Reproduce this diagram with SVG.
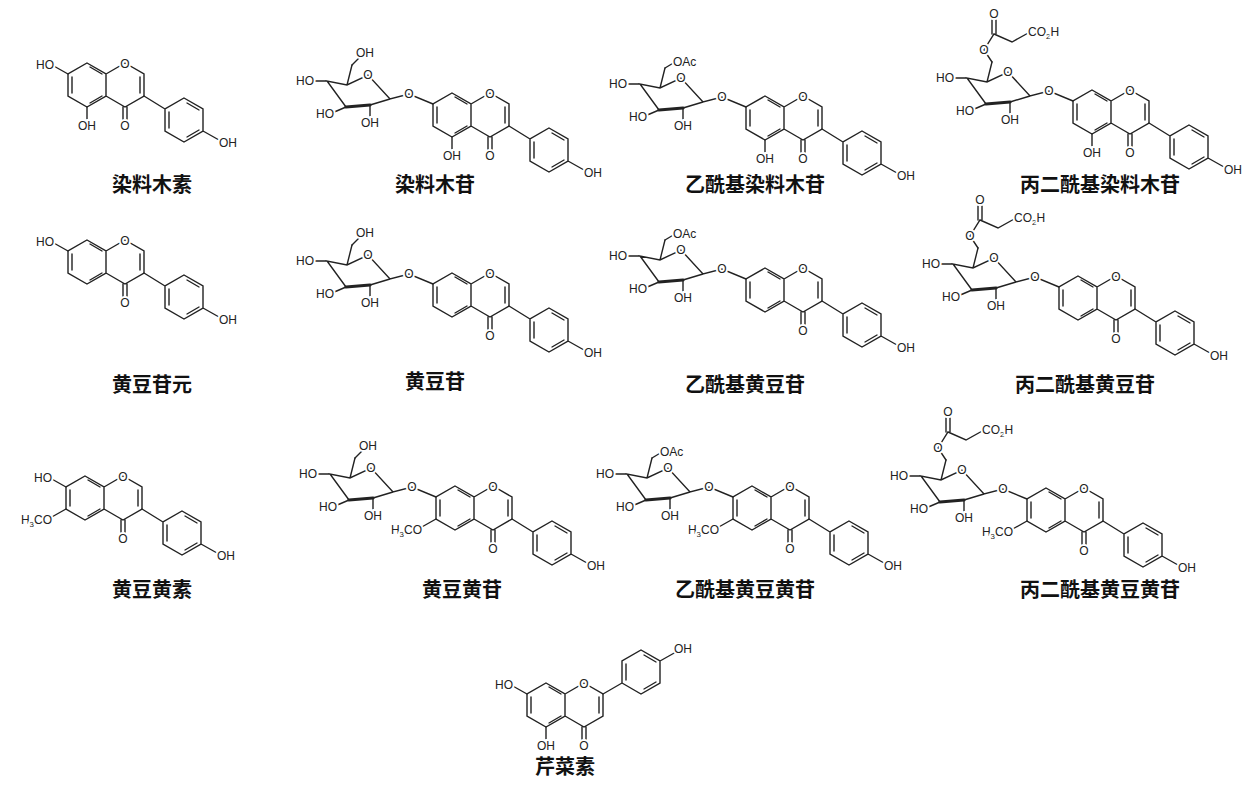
<svg xmlns="http://www.w3.org/2000/svg" xmlns:xlink="http://www.w3.org/1999/xlink" width="1258" height="786" viewBox="0 0 1258 786">
<style>
.b{fill:none;stroke:#222;stroke-width:1.4;stroke-linecap:round}
.w{fill:none;stroke:#222;stroke-width:3.2;stroke-linecap:round}
.t{font-family:"Liberation Sans",sans-serif;font-size:12px;fill:#222;stroke:#fff;stroke-width:4;paint-order:stroke;text-anchor:middle}
.e{text-anchor:end}.s{text-anchor:start}
.n{font-family:"Liberation Sans","Noto Sans CJK SC",sans-serif;font-size:20px;font-weight:bold;fill:#111;text-anchor:middle}
</style>
<defs>
<g id="core">
<path class="b" d="M0,-22 L19,-11 L19,11 L0,22 L-19,11 L-19,-11Z M-15,-8 L-15,8 M3,18 L15,11 M19,-11 L38,-22 L57,-11 L57,11 L38,22 L19,11 M53,-8 L53,8 M36,22 L36,36 M40,22 L40,36 M3,-18 L15,-11"/>
<text class="t" x="38" y="-17">O</text>
<text class="t" x="38" y="45">O</text>
</g>
<g id="isoB">
<path class="b" d="M57,11 L78,24 M97,13 L116,24 L116,46 L97,57 L78,46 L78,24Z M82,27 L82,43 M100,18 L112,25 M100,52 L112,45 M116,46 L132,55"/>
<text class="t s" x="132" y="62">OH</text>
</g>
<g id="ho7"><path class="b" d="M-19,-11 L-35,-20"/><text class="t e" x="-33" y="-16">HO</text></g>
<g id="oh5"><path class="b" d="M0,22 L0,34"/><text class="t" x="0" y="45">OH</text></g>
<g id="meo6"><path class="b" d="M-19,11 L-35,20"/><text class="t e" x="-33" y="26">H<tspan font-size="8" dy="3">3</tspan><tspan dy="-3">CO</tspan></text></g>
<g id="glc">
<path class="b" d="M-19,-11 L-43,-21 L-62,-16 L-84,-40 L-105,-30 L-125,-34 L-106,-8 M-62,-16 L-82,-10 M-125,-34 L-140,-34 M-106,-8 L-120,-2 M-82,-10 L-82,2 M-105,-30 L-100,-50"/>
<path class="w" d="M-82,-10 L-106,-8"/>
<text class="t" x="-43" y="-17">O</text>
<text class="t" x="-84" y="-36">O</text>
<text class="t e" x="-138" y="-30">HO</text>
<text class="t e" x="-118" y="3">HO</text>
<text class="t" x="-82" y="12">OH</text>
</g>
<g id="c6oh"><path class="b" d="M-100,-50 L-92,-58"/><text class="t s" x="-96" y="-58">OH</text></g>
<g id="c6ac"><path class="b" d="M-100,-50 L-90,-56"/><text class="t s" x="-92" y="-52">OAc</text></g>
<g id="c6mal"><path class="b" d="M-100,-50 L-108,-62 L-98,-78 L-80,-70 L-62,-80 M-100,-78 L-100,-92 M-96,-78 L-96,-92"/><text class="t" x="-108" y="-58">O</text><text class="t" x="-98" y="-94">O</text><text class="t s" x="-64" y="-76">CO<tspan font-size="8" dy="3">2</tspan><tspan dy="-3">H</tspan></text></g>
</defs>

<g id="genistein" transform="translate(87,85)"><use href="#core"/><use href="#isoB"/><use href="#ho7"/><use href="#oh5"/></g>
<g id="genistin" transform="translate(452,115)"><use href="#core"/><use href="#isoB"/><use href="#glc"/><use href="#c6oh"/><use href="#oh5"/></g>
<g id="acetylgenistin" transform="translate(765,118)"><use href="#core"/><use href="#isoB"/><use href="#glc"/><use href="#c6ac"/><use href="#oh5"/></g>
<g id="malonylgenistin" transform="translate(1092,112)"><use href="#core"/><use href="#isoB"/><use href="#glc"/><use href="#c6mal"/><use href="#oh5"/></g>

<g id="daidzein" transform="translate(87,262)"><use href="#core"/><use href="#isoB"/><use href="#ho7"/></g>
<g id="daidzin" transform="translate(452,295)"><use href="#core"/><use href="#isoB"/><use href="#glc"/><use href="#c6oh"/></g>
<g id="acetyldaidzin" transform="translate(765,290)"><use href="#core"/><use href="#isoB"/><use href="#glc"/><use href="#c6ac"/></g>
<g id="malonyldaidzin" transform="translate(1078,298)"><use href="#core"/><use href="#isoB"/><use href="#glc"/><use href="#c6mal"/></g>

<g id="glycitein" transform="translate(85,498)"><use href="#core"/><use href="#isoB"/><use href="#ho7"/><use href="#meo6"/></g>
<g id="glycitin" transform="translate(455,508)"><use href="#core"/><use href="#isoB"/><use href="#glc"/><use href="#c6oh"/><use href="#meo6"/></g>
<g id="acetylglycitin" transform="translate(752,508)"><use href="#core"/><use href="#isoB"/><use href="#glc"/><use href="#c6ac"/><use href="#meo6"/></g>
<g id="malonylglycitin" transform="translate(1046,510)"><use href="#core"/><use href="#isoB"/><use href="#glc"/><use href="#c6mal"/><use href="#meo6"/></g>

<g id="apigenin" transform="translate(546,705)"><use href="#core"/><use href="#ho7"/><use href="#oh5"/>
<path class="b" d="M57,-11 L76,-22 M76,-22 L95,-11 L114,-22 L114,-44 L95,-55 L76,-44Z M80,-25 L80,-41 M98,-16 L110,-23 M98,-50 L110,-43 M114,-44 L130,-53"/>
<text class="t s" x="128" y="-52">OH</text></g>

<g id="labels">
<text class="n" x="152" y="192">染料木素</text>
<text class="n" x="435" y="192">染料木苷</text>
<text class="n" x="755" y="192">乙酰基染料木苷</text>
<text class="n" x="1100" y="192">丙二酰基染料木苷</text>
<text class="n" x="152" y="392">黄豆苷元</text>
<text class="n" x="435" y="389">黄豆苷</text>
<text class="n" x="745" y="392">乙酰基黄豆苷</text>
<text class="n" x="1085" y="392">丙二酰基黄豆苷</text>
<text class="n" x="152" y="597">黄豆黄素</text>
<text class="n" x="462" y="597">黄豆黄苷</text>
<text class="n" x="745" y="597">乙酰基黄豆黄苷</text>
<text class="n" x="1100" y="597">丙二酰基黄豆黄苷</text>
<text class="n" x="565" y="774">芹菜素</text>
</g>
</svg>
